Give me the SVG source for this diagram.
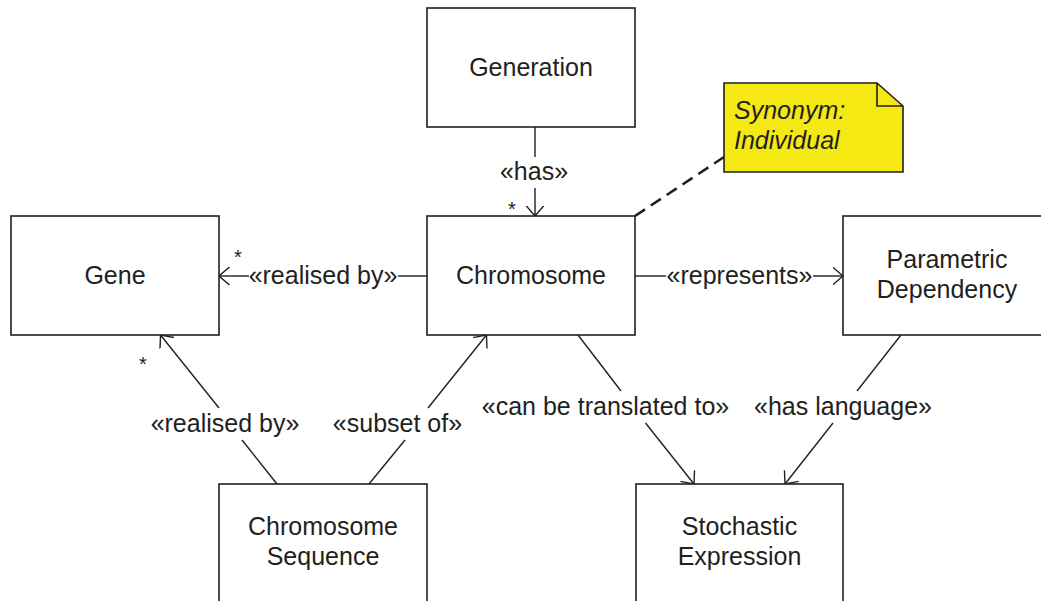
<svg xmlns="http://www.w3.org/2000/svg" width="1041" height="601" viewBox="0 0 1041 601">
  <style>
    .box { fill: #ffffff; stroke: #231f20; stroke-width: 1.6; }
    .lbl { font-family: "Liberation Sans", Arial, sans-serif; font-size: 25px; fill: #231f20; text-anchor: middle; }
    .edge { fill: none; stroke: #231f20; stroke-width: 1.4; }
    .mult { font-family: "Liberation Sans", Arial, sans-serif; font-size: 20px; fill: #231f20; text-anchor: middle; }
    .note { fill: #f5e914; stroke: #231f20; stroke-width: 1.6; }
    .notetxt { font-family: "Liberation Sans", Arial, sans-serif; font-size: 25px; font-style: italic; fill: #231f20; }
  </style>
  <defs>
    <marker id="open" viewBox="0 0 11 20" refX="10.5" refY="10" markerWidth="11" markerHeight="20" markerUnits="userSpaceOnUse" orient="auto">
      <path d="M0,1 L10.5,10 L0,19" fill="none" stroke="#231f20" stroke-width="1.4"/>
    </marker>
  </defs>

  <rect width="1041" height="601" fill="#ffffff"/>

  <g id="connectors">
    <!-- Generation has Chromosome -->
    <line class="edge" x1="535" y1="127" x2="535" y2="157"/>
    <line class="edge" x1="535" y1="188" x2="535" y2="216" marker-end="url(#open)"/>
    <text class="lbl" x="534" y="180">«has»</text>
    <text class="mult" x="512" y="216">*</text>

    <!-- Chromosome realised by Gene -->
    <line class="edge" x1="427" y1="276" x2="398" y2="276"/>
    <line class="edge" x1="249" y1="276" x2="219" y2="276" marker-end="url(#open)"/>
    <text class="lbl" x="323" y="284">«realised by»</text>
    <text class="mult" x="238" y="264">*</text>

    <!-- Chromosome represents Parametric Dependency -->
    <line class="edge" x1="635" y1="276" x2="666" y2="276"/>
    <line class="edge" x1="813" y1="276" x2="843" y2="276" marker-end="url(#open)"/>
    <text class="lbl" x="739.5" y="284">«represents»</text>

    <!-- Chromosome Sequence realised by Gene -->
    <line class="edge" x1="277" y1="484" x2="242" y2="440"/>
    <line class="edge" x1="219" y1="408" x2="160.5" y2="335" marker-end="url(#open)"/>
    <text class="lbl" x="225" y="432">«realised by»</text>
    <text class="mult" x="143" y="371">*</text>

    <!-- Chromosome Sequence subset of Chromosome -->
    <line class="edge" x1="369" y1="484" x2="405" y2="440"/>
    <line class="edge" x1="428" y1="408" x2="486.5" y2="335" marker-end="url(#open)"/>
    <text class="lbl" x="397.5" y="432">«subset of»</text>

    <!-- Chromosome can be translated to Stochastic Expression -->
    <line class="edge" x1="578" y1="335" x2="621" y2="391"/>
    <line class="edge" x1="645.5" y1="423" x2="694" y2="484" marker-end="url(#open)"/>
    <text class="lbl" x="605.5" y="415">«can be translated to»</text>

    <!-- Parametric Dependency has language Stochastic Expression -->
    <line class="edge" x1="901" y1="335" x2="857" y2="391"/>
    <line class="edge" x1="833" y1="423" x2="785" y2="484" marker-end="url(#open)"/>
    <text class="lbl" x="843" y="415">«has language»</text>

    <!-- note anchor -->
    <line x1="635" y1="216" x2="724" y2="157" stroke="#231f20" stroke-width="2.6" stroke-dasharray="12,7" fill="none"/>
  </g>

  <g id="generation">
    <rect class="box" x="427" y="8" width="208" height="119"/>
    <text class="lbl" x="531" y="76">Generation</text>
  </g>

  <g id="chromosome">
    <rect class="box" x="427" y="216" width="208" height="119"/>
    <text class="lbl" x="531" y="284">Chromosome</text>
  </g>

  <g id="gene">
    <rect class="box" x="11" y="216" width="208" height="119"/>
    <text class="lbl" x="115" y="284">Gene</text>
  </g>

  <g id="parametric-dependency">
    <rect class="box" x="843" y="216" width="208" height="119"/>
    <text class="lbl" x="947" y="268">Parametric</text>
    <text class="lbl" x="947" y="298">Dependency</text>
  </g>

  <g id="chromosome-sequence">
    <rect class="box" x="219" y="484" width="208" height="130"/>
    <text class="lbl" x="323" y="535">Chromosome</text>
    <text class="lbl" x="323" y="565">Sequence</text>
  </g>

  <g id="stochastic-expression">
    <rect class="box" x="636" y="484" width="207" height="130"/>
    <text class="lbl" x="739.5" y="535">Stochastic</text>
    <text class="lbl" x="739.5" y="565">Expression</text>
  </g>

  <g id="note-synonym">
    <path class="note" d="M724,83 L877,83 L903,106 L903,172 L724,172 Z"/>
    <path d="M877,83 L877,106 L903,106" fill="none" stroke="#231f20" stroke-width="1.6"/>
    <text class="notetxt" x="734" y="119">Synonym:</text>
    <text class="notetxt" x="734" y="149">Individual</text>
  </g>
</svg>
